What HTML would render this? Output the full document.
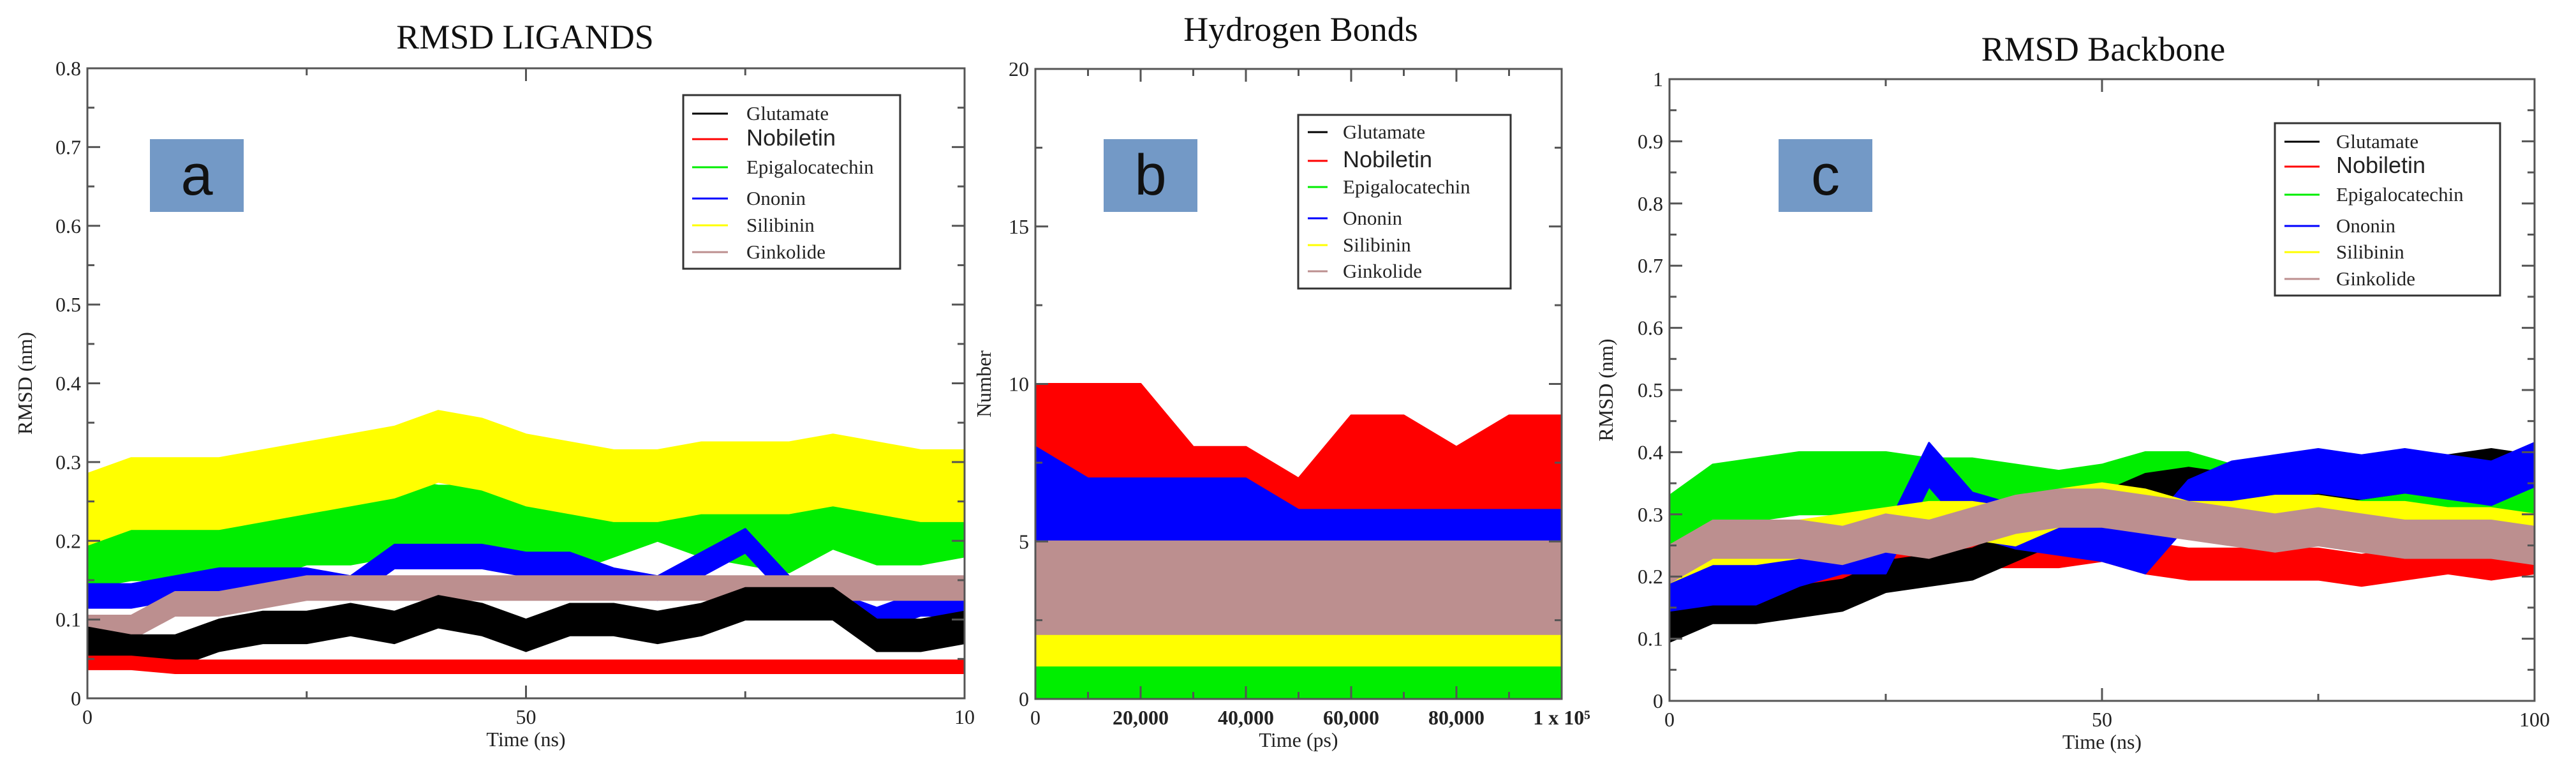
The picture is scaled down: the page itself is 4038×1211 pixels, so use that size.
<!DOCTYPE html>
<html><head><meta charset="utf-8"><style>
body{margin:0;background:#fff;width:4038px;height:1211px;overflow:hidden;font-family:"Liberation Serif",serif;}
svg{position:absolute;left:0;top:0}
</style></head><body>
<svg id="chart" width="4038" height="1211" xmlns="http://www.w3.org/2000/svg"></svg>
<script>
// ---- Panel a: RMSD ligands (x every 5 ns) ----
const aTimes=[0,5,10,15,20,25,30,35,40,45,50,55,60,65,70,75,80,85,90,95,100];
const aSilibinin=[0.24,0.26,0.26,0.26,0.27,0.28,0.29,0.30,0.32,0.31,0.29,0.28,0.27,0.27,0.28,0.28,0.28,0.29,0.28,0.27,0.27];
const aEpigalo=[0.19,0.20,0.20,0.19,0.20,0.22,0.22,0.23,0.22,0.22,0.22,0.21,0.23,0.25,0.23,0.22,0.21,0.24,0.22,0.22,0.23];
const aOnonin=[0.13,0.13,0.14,0.15,0.15,0.15,0.14,0.18,0.18,0.18,0.17,0.17,0.15,0.14,0.17,0.20,0.14,0.12,0.10,0.12,0.12];
const aGinkolide=[0.09,0.09,0.12,0.12,0.13,0.14,0.14,0.14,0.14,0.14,0.14,0.14,0.14,0.14,0.14,0.14,0.14,0.14,0.14,0.14,0.14];
const aGlutamate=[0.07,0.06,0.06,0.08,0.09,0.09,0.10,0.09,0.11,0.10,0.08,0.10,0.10,0.09,0.10,0.12,0.12,0.12,0.08,0.08,0.09];
const aNobiletin=[0.045,0.045,0.04,0.04,0.04,0.04,0.04,0.04,0.04,0.04,0.04,0.04,0.04,0.04,0.04,0.04,0.04,0.04,0.04,0.04,0.04];
const aSpread=[0.05,0.045,0.015,0.015,0.02,0.008];
// ---- Panel b: hydrogen bonds (x every 10000 ps), low/high band ----
const bTimes=[0,10000,20000,30000,40000,50000,60000,70000,80000,90000,100000];
const bNobiletinLo=[7,7,7,6,6,6,6,6,6,6,6];
const bNobiletinHi=[10,10,10,8,8,7,9,9,8,9,9];
const bOnoninLo=[5,5,5,5,4,5,5,5,5,5,5];
const bOnoninHi=[8,7,7,7,7,6,6,6,6,6,6];
const bGinkolideLo=[2,2,2,2,2,2,2,2,2,2,2];
const bGinkolideHi=[5,5,5,5,5,5,5,5,5,5,5];
const bSilibininLo=[1,1,1,1,1,1,1,1,1,1,1];
const bSilibininHi=[2,2,2,2,2,2,2,2,2,2,2];
const bEpigaloLo=[0,0,0,0,0,0,0,0,0,0,0];
const bEpigaloHi=[1,1,1,1,1,1,1,1,1,1,1];
// ---- Panel c: RMSD backbone ----
const cTimes=[0,5,10,15,20,25,30,35,40,45,50,55,60,65,70,75,80,85,90,95,100];
const cNobiletin=[0.20,0.22,0.21,0.21,0.21,0.22,0.22,0.24,0.24,0.24,0.25,0.23,0.22,0.22,0.22,0.22,0.21,0.22,0.23,0.22,0.23];
const cEpigalo=[0.28,0.33,0.34,0.35,0.35,0.35,0.34,0.34,0.33,0.32,0.33,0.35,0.35,0.33,0.33,0.33,0.33,0.33,0.33,0.33,0.33];
const cGlutamate=[0.12,0.15,0.15,0.16,0.17,0.20,0.21,0.22,0.25,0.28,0.31,0.34,0.35,0.34,0.33,0.34,0.35,0.36,0.37,0.38,0.37];
const cOnonin=[0.18,0.19,0.19,0.22,0.24,0.24,0.38,0.30,0.28,0.27,0.26,0.24,0.32,0.35,0.36,0.37,0.36,0.37,0.36,0.35,0.38];
const cSilibinin=[0.22,0.25,0.25,0.26,0.27,0.28,0.29,0.29,0.28,0.31,0.32,0.31,0.29,0.29,0.30,0.30,0.29,0.29,0.28,0.28,0.27];
const cGinkolide=[0.22,0.26,0.26,0.26,0.25,0.27,0.26,0.28,0.30,0.31,0.31,0.30,0.29,0.28,0.27,0.28,0.27,0.26,0.26,0.26,0.25];
const legendNames=["Glutamate","Nobiletin","Epigalocatechin","Ononin","Silibinin","Ginkolide"];
const legendColors=["#000000","#ff0000","#00ee00","#0000ff","#ffff00","#bc8f8f"];
const aYTicks=[0,0.1,0.2,0.3,0.4,0.5,0.6,0.7,0.8];
const aXTicks=["0","50","10"];
const bYTicks=[0,5,10,15,20];
const bXTicks=["0","20,000","40,000","60,000","80,000","1 x 10\u2075"];
const cYTicks=["0","0.1","0.2","0.3","0.4","0.5","0.6","0.7","0.8","0.9","1"];
const cXTicks=["0","50","100"];

const NS="http://www.w3.org/2000/svg";
const svg=document.getElementById('chart');
function mk(tag,attrs,parent){const e=document.createElementNS(NS,tag);for(const k in attrs)e.setAttribute(k,attrs[k]);(parent||svg).appendChild(e);return e;}
function txt(s,attrs,parent){const e=mk('text',attrs,parent);e.textContent=s;return e;}

function panel(P){
  const g=mk('g',{});
  
  
  const sx=v=>P.L+(v-P.x0)/(P.x1-P.x0)*(P.R-P.L);
  const sy=v=>P.B-(v-P.y0)/(P.y1-P.y0)*(P.B-P.T);
  P.series.forEach(s=>{
    let pts=[];
    for(let i=0;i<s.x.length;i++)pts.push(sx(s.x[i])+','+sy(s.lo[i]));
    for(let i=s.x.length-1;i>=0;i--)pts.push(sx(s.x[i])+','+sy(s.hi[i]));
    const p=mk('polygon',{points:pts.join(' '),fill:s.color,stroke:s.color,'stroke-width':3,'stroke-linejoin':'round'},g);
    
    
  });
  const fr=mk('rect',{x:P.L,y:P.T,width:P.R-P.L,height:P.B-P.T,fill:'none',stroke:'#555',"stroke-width":3},g);
  
  
  for(let v=P.y0;v<=P.y1+1e-9;v+=P.yMinor){
    const major=Math.abs(Math.round(v/P.yMajor)*P.yMajor-v)<1e-9;const len=major?20:11;
    mk('line',{x1:P.L,x2:P.L+len,y1:sy(v),y2:sy(v),stroke:'#555','stroke-width':3},g);
    mk('line',{x1:P.R,x2:P.R-len,y1:sy(v),y2:sy(v),stroke:'#555','stroke-width':3},g);
  }
  for(let v=P.x0;v<=P.x1+1e-9;v+=P.xMinor){
    const major=Math.abs(Math.round(v/P.xMajor)*P.xMajor-v)<1e-9;const len=major?20:11;
    mk('line',{y1:P.B,y2:P.B-len,x1:sx(v),x2:sx(v),stroke:'#555','stroke-width':3},g);
    mk('line',{y1:P.T,y2:P.T+len,x1:sx(v),x2:sx(v),stroke:'#555','stroke-width':3},g);
  }
  P.yTicks.forEach((lab,i)=>{
    const t=txt(String(lab),{x:P.L-10,y:sy(P.y0+i*P.yMajor)+11,'font-size':32,'text-anchor':'end',fill:'#222'},g);
    
    
  });
  P.xTicks.forEach((lab,i)=>{
    const t=txt(lab,{x:sx(P.x0+i*P.xLabStep),y:P.B+40,'font-size':32,'text-anchor':'middle',fill:'#222','font-weight':P.boldX&&i>0?'bold':'normal'},g);
    
    
  });
  const xt=txt(P.xTitle,{x:(P.L+P.R)/2,y:P.B+75,'font-size':32,'text-anchor':'middle',fill:'#222'},g);
  
  
  const yt=txt(P.yTitle,{x:0,y:0,'font-size':32,'text-anchor':'middle',fill:'#222',transform:`translate(${P.yTitleX},${(P.T+P.B)/2}) rotate(-90)`},g);
  
  
  const tt=txt(P.title,{x:P.titleX,y:P.titleY,'font-size':54,'text-anchor':'middle',fill:'#111'},g);
  
  
  const lb=mk('rect',{x:P.box[0],y:218,width:P.box[1],height:114,fill:'#7399c6'},g);
  
  
  const lt=txt(P.letter,{x:P.box[0]+P.box[1]/2,y:305,'font-size':90,'text-anchor':'middle','font-family':'Liberation Sans, sans-serif',fill:'#111'},g);
  
  
  const Lg=P.leg;
  const lr=mk('rect',{x:Lg.x,y:Lg.y,width:Lg.w,height:Lg.h,fill:'#fff',stroke:'#333','stroke-width':3},g);
  
  
  legendNames.forEach((n,i)=>{
    const y=Lg.ys[i];
    mk('line',{x1:Lg.s1,x2:Lg.s2,y1:y,y2:y,stroke:legendColors[i],'stroke-width':3},g);
    const t=txt(n,{x:Lg.tx,y:y+10,'font-size':i==1?36:31,fill:'#222','font-family':i==1?'Liberation Sans, sans-serif':'Liberation Serif, serif'},g);
    
    
  });
}
const C=legendColors;
function band(vals,h){return {lo:vals.map(v=>v-h),hi:vals.map(v=>v+h)};}
panel({name:'panel-a-rmsd-ligands',L:137,R:1512,T:107,B:1094,x0:0,x1:100,y0:0,y1:0.8,xMajor:50,xMinor:25,yMajor:0.1,yMinor:0.05,xLabStep:50,
 yTicks:aYTicks,xTicks:aXTicks,xTitle:'Time (ns)',yTitle:'RMSD (nm)',yTitleX:50,title:'RMSD LIGANDS',titleX:823,titleY:76,letter:'a',box:[235,147],
 leg:{x:1071,y:149,w:340,h:272,ys:[178,218,262,311,353,395],s1:1085,s2:1141,tx:1170},
 series:[
  Object.assign({id:'series-epigalocatechin',x:aTimes,color:C[2]},band(aEpigalo,aSpread[0])),
  Object.assign({id:'series-silibinin',x:aTimes,color:C[4]},band(aSilibinin,aSpread[1])),
  Object.assign({id:'series-ononin',x:aTimes,color:C[3]},band(aOnonin,aSpread[2])),
  Object.assign({id:'series-ginkolide',x:aTimes,color:C[5]},band(aGinkolide,aSpread[3])),
  Object.assign({id:'series-glutamate',x:aTimes,color:C[0]},band(aGlutamate,aSpread[4])),
  Object.assign({id:'series-nobiletin',x:aTimes,color:C[1]},band(aNobiletin,aSpread[5]))]});
panel({name:'panel-b-hydrogen-bonds',L:1623,R:2448,T:108,B:1095,x0:0,x1:100000,y0:0,y1:20,xMajor:20000,xMinor:10000,yMajor:5,yMinor:2.5,xLabStep:20000,boldX:true,
 yTicks:bYTicks,xTicks:bXTicks,xTitle:'Time (ps)',yTitle:'Number',yTitleX:1553,title:'Hydrogen Bonds',titleX:2039,titleY:64,letter:'b',box:[1730,147],
 leg:{x:2035,y:180,w:333,h:272,ys:[207,252,293,342,384,425],s1:2050,s2:2081,tx:2105},
 series:[
  {id:'series-nobiletin',x:bTimes,lo:bNobiletinLo,hi:bNobiletinHi,color:C[1]},
  {id:'series-ononin',x:bTimes,lo:bOnoninLo,hi:bOnoninHi,color:C[3]},
  {id:'series-ginkolide',x:bTimes,lo:bGinkolideLo,hi:bGinkolideHi,color:C[5]},
  {id:'series-silibinin',x:bTimes,lo:bSilibininLo,hi:bSilibininHi,color:C[4]},
  {id:'series-epigalocatechin',x:bTimes,lo:bEpigaloLo,hi:bEpigaloHi,color:C[2]}]});
panel({name:'panel-c-rmsd-backbone',L:2617,R:3973,T:124,B:1098,x0:0,x1:100,y0:0,y1:1,xMajor:50,xMinor:25,yMajor:0.1,yMinor:0.05,xLabStep:50,
 yTicks:cYTicks,xTicks:cXTicks,xTitle:'Time (ns)',yTitle:'RMSD (nm)',yTitleX:2528,title:'RMSD Backbone',titleX:3297,titleY:95,letter:'c',box:[2788,147],
 leg:{x:3566,y:193,w:353,h:270,ys:[222,261,305,354,395,437],s1:3581,s2:3636,tx:3662},
 series:[
  Object.assign({id:'series-nobiletin',x:cTimes,color:C[1]},band(cNobiletin,0.025)),
  Object.assign({id:'series-epigalocatechin',x:cTimes,color:C[2]},band(cEpigalo,0.05)),
  Object.assign({id:'series-glutamate',x:cTimes,color:C[0]},band(cGlutamate,0.025)),
  Object.assign({id:'series-ononin',x:cTimes,color:C[3]},band(cOnonin,0.035)),
  Object.assign({id:'series-silibinin',x:cTimes,color:C[4]},band(cSilibinin,0.03)),
  Object.assign({id:'series-ginkolide',x:cTimes,color:C[5]},band(cGinkolide,0.03))]});
</script>
</body></html>
